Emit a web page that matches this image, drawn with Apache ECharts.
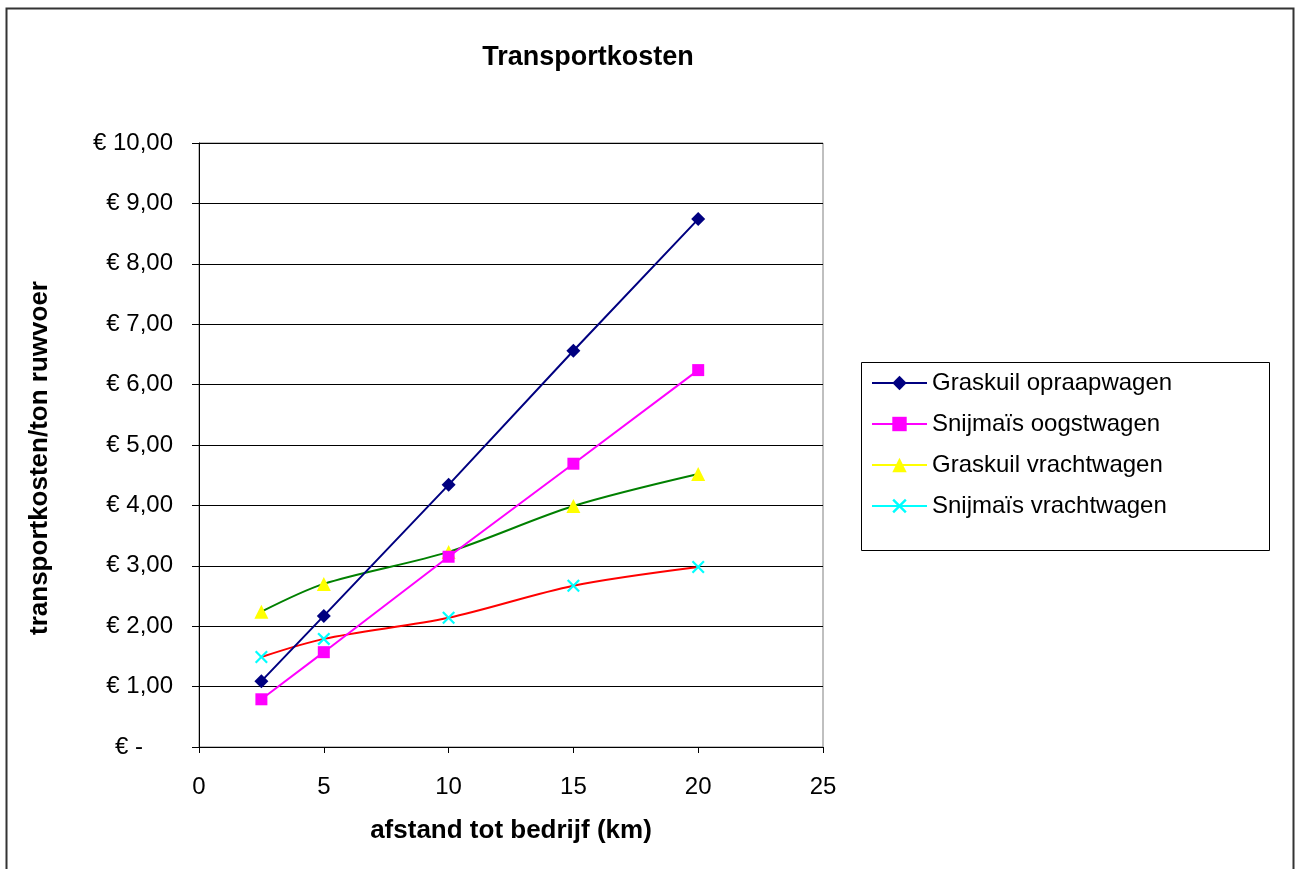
<!DOCTYPE html>
<html><head><meta charset="utf-8">
<script src="https://cdn.jsdelivr.net/npm/echarts@6/dist/echarts.min.js"></script>
<style>html,body{margin:0;padding:0;background:#fff}#c{width:1299px;height:869px}</style>
</head><body><div id="c"></div>
<script>
var afstand = [2.5, 5, 10, 15, 20];
var graskuilOpraapwagen = [1.09, 2.17, 4.34, 6.56, 8.74];
var snijmaisOogstwagen = [0.79, 1.57, 3.15, 4.69, 6.24];
var graskuilVrachtwagen = [2.24, 2.70, 3.23, 3.99, 4.52];
var snijmaisVrachtwagen = [1.49, 1.79, 2.14, 2.67, 2.98];
var seriesNames = ['Graskuil opraapwagen', 'Snijmaïs oogstwagen', 'Graskuil vrachtwagen', 'Snijmaïs vrachtwagen'];
var yTicks = [0, 1, 2, 3, 4, 5, 6, 7, 8, 9, 10];
var xTicks = [0, 5, 10, 15, 20, 25];

function pairs(ys){ return afstand.map(function(x,i){ return [x, ys[i]]; }); }
var xPath = 'path://M0,1.2 L1.2,0 L5,3.8 L8.8,0 L10,1.2 L6.2,5 L10,8.8 L8.8,10 L5,6.2 L1.2,10 L0,8.8 L3.8,5 Z';
var font = 'Liberation Sans, Arial, sans-serif';

var chart = echarts.init(document.getElementById('c'));
chart.setOption({
  animation: false,
  backgroundColor: '#fff',
  title: {
    text: 'Transportkosten', left: 583, top: 39, textAlign: 'center',
    textStyle: { fontFamily: font, fontSize: 27, fontWeight: 'bold', color: '#000' }
  },
  graphic: [
    { type: 'rect', shape: { x: 6.5, y: 8.5, width: 1287, height: 880 }, style: { fill: 'none', stroke: '#333', lineWidth: 2 }, silent: true },
    { type: 'rect', shape: { x: 861.5, y: 362.5, width: 408, height: 188 }, style: { fill: '#fff', stroke: '#000', lineWidth: 1 }, z: 0, silent: true }
  ],
  legend: {
    orient: 'vertical', left: 866, top: 366, itemWidth: 55, itemHeight: 18, itemGap: 17,
    textStyle: { fontFamily: font, fontSize: 24, color: '#000' },
    data: [
      { name: seriesNames[0] },
      { name: seriesNames[1] },
      { name: seriesNames[2], lineStyle: { color: '#ffff00' } },
      { name: seriesNames[3], lineStyle: { color: '#00ffff' } }
    ]
  },
  grid: { left: 199, right: 476, top: 143, bottom: 122, show: true, borderColor: '#808080', borderWidth: 1 },
  xAxis: {
    type: 'value', min: xTicks[0], max: xTicks[xTicks.length-1], interval: 5,
    name: 'afstand tot bedrijf (km)', nameLocation: 'middle', nameGap: 71, nameMoveOverlap: false,
    nameTextStyle: { fontFamily: font, fontSize: 26, fontWeight: 'bold', color: '#000' },
    axisLine: { lineStyle: { color: '#000', width: 1 } },
    axisTick: { show: true, length: 6, lineStyle: { color: '#000' } },
    axisLabel: { fontFamily: font, fontSize: 24, color: '#000', margin: 28 },
    splitLine: { show: false }
  },
  yAxis: {
    type: 'value', min: yTicks[0], max: yTicks[yTicks.length-1], interval: 1,
    name: 'transportkosten/ton ruwvoer', nameLocation: 'middle', nameGap: 146, nameRotate: 90, nameMoveOverlap: false,
    nameTextStyle: { fontFamily: font, fontSize: 26, fontWeight: 'bold', color: '#000', padding: [0, 26, 0, 0] },
    axisLine: { show: true, lineStyle: { color: '#000', width: 1 } },
    axisTick: { show: true, length: 7, lineStyle: { color: '#000' } },
    axisLabel: {
      fontFamily: font, fontSize: 24, color: '#000', margin: 26,
      formatter: function(v){ return v === 0 ? '{z|€ -}' : '€ ' + v.toFixed(2).replace('.', ','); },
      rich: { z: { fontFamily: font, fontSize: 24, color: '#000', padding: [0, 30, 0, 0] } }
    },
    splitLine: { show: true, lineStyle: { color: '#000', width: 1 } }
  },
  series: [
    { name: seriesNames[0], type: 'line', data: pairs(graskuilOpraapwagen), symbol: 'diamond', symbolSize: 14,
      itemStyle: { color: '#000080' }, lineStyle: { color: '#000080', width: 2 }, z: 5 },
    { name: seriesNames[1], type: 'line', data: pairs(snijmaisOogstwagen), symbol: 'rect', symbolSize: 12,
      itemStyle: { color: '#ff00ff' }, lineStyle: { color: '#ff00ff', width: 2 }, z: 4 },
    { name: seriesNames[2], type: 'line', data: pairs(graskuilVrachtwagen), symbol: 'triangle', symbolSize: 14, smooth: 0.3,
      itemStyle: { color: '#ffff00' }, lineStyle: { color: '#008000', width: 2 }, z: 3 },
    { name: seriesNames[3], type: 'line', data: pairs(snijmaisVrachtwagen), symbol: xPath, symbolSize: 13, smooth: 0.3,
      itemStyle: { color: '#00ffff' }, lineStyle: { color: '#ff0000', width: 2 }, z: 2 }
  ]
});
</script></body></html>
